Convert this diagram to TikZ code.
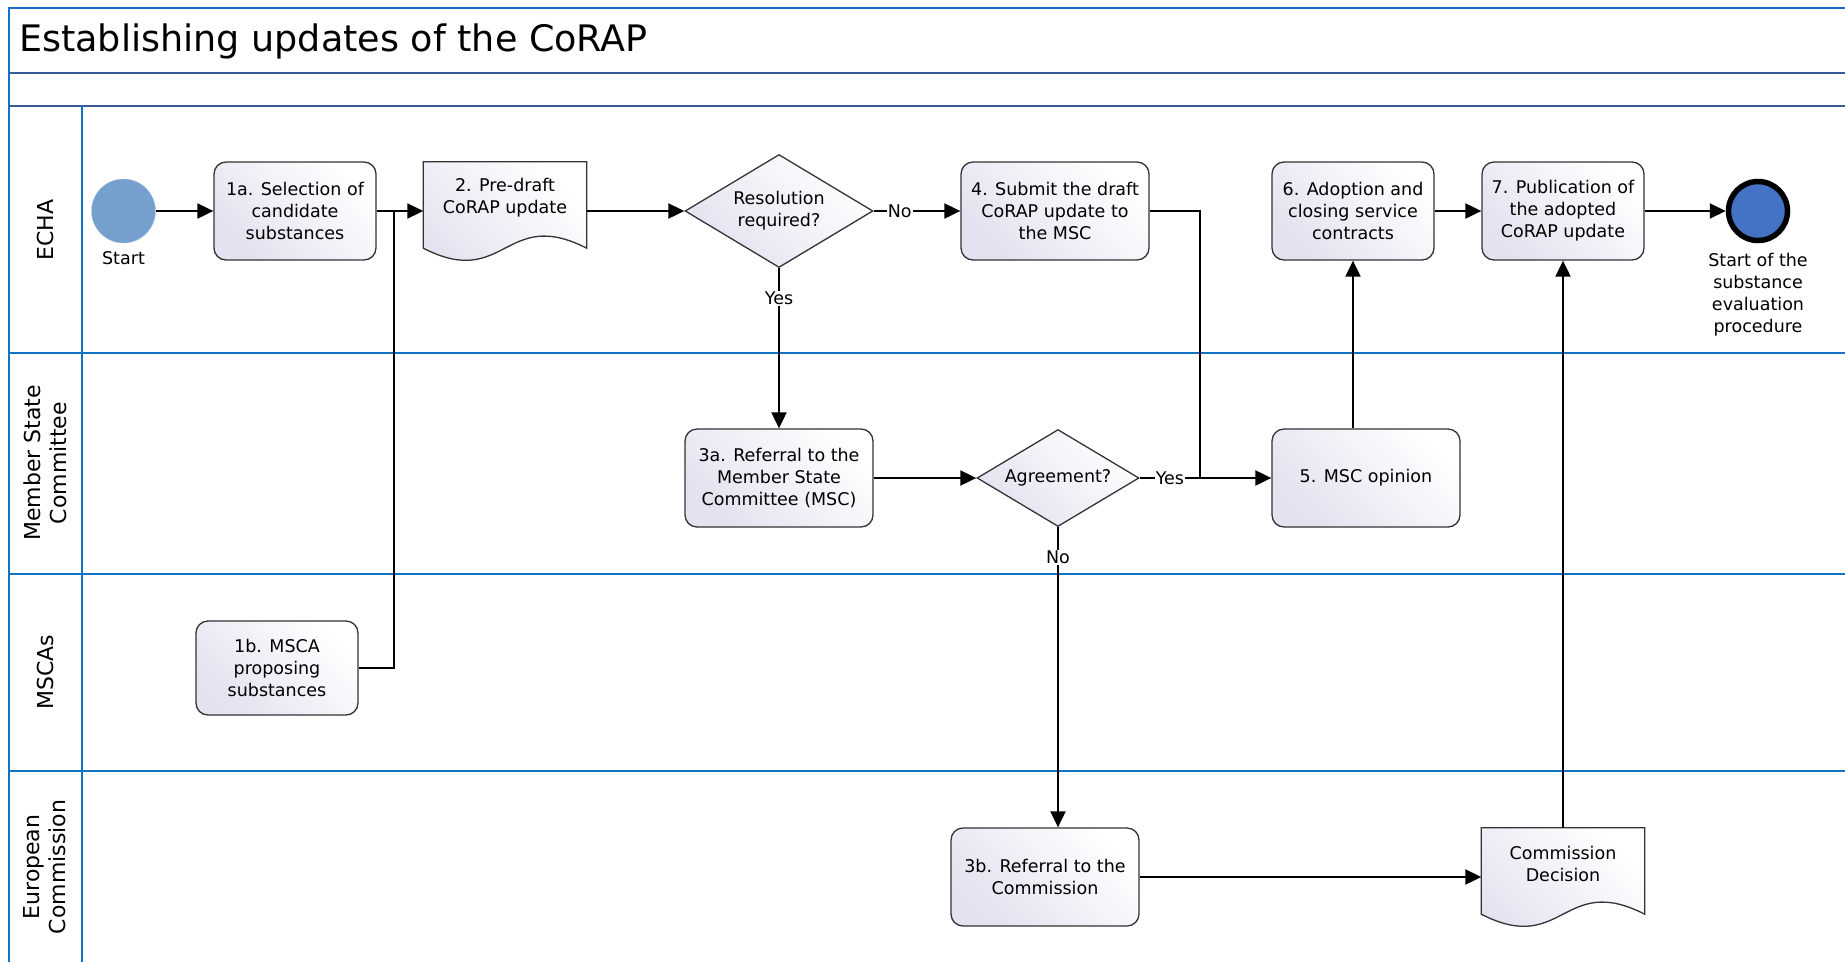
\documentclass[tikz,border=0pt]{standalone}
\usepackage{fontspec}
\setmainfont{DejaVu Sans}
\usetikzlibrary{shapes.geometric,arrows.meta,calc,positioning,backgrounds}

\definecolor{laneblue}{HTML}{1273C6}
\definecolor{bandblue}{HTML}{3A5C96}
\definecolor{shadeA}{HTML}{E2E2F0}
\definecolor{startblue}{HTML}{759FCC}
\definecolor{endblue}{HTML}{4472C4}

\newcommand{\boxfont}{\fontsize{17.5}{22}\selectfont}

\tikzset{
  laneline/.style={draw=laneblue, line width=2.2pt},
  bandline/.style={draw=bandblue, line width=2.5pt},
  lanename/.style={rotate=90, align=center, font=\fontsize{22}{26}\selectfont},
  task/.style={draw=black!80, line width=1.3pt, rounded corners=12pt, align=center,
    top color=shadeA, bottom color=white, shading angle=135,
    minimum width=162pt, minimum height=98pt, inner sep=2pt, font=\boxfont},
  wide/.style={minimum width=188pt},
  gate/.style={diamond, aspect=1.66, draw=black!80, line width=1.3pt, align=center,
    top color=shadeA, bottom color=white, shading angle=135, inner sep=0pt, font=\boxfont},
  docpage/.style={align=center, minimum width=163pt, minimum height=72pt, inner sep=0pt, font=\boxfont},
  docfill/.style={draw=black!80, line width=1.3pt, top color=shadeA, bottom color=white, shading angle=135},
  flow/.style={line width=2pt, -{Triangle[length=16pt,width=15pt]}},
  link/.style={line width=2pt},
  answer/.style={fill=white, inner sep=1pt, font=\boxfont},
}

% wavy page outline round a docpage node
\newcommand{\pageoutline}[1]{%
  \path[docfill] (#1.north west) -- (#1.north east) -- ($(#1.south east)+(0,14)$)
    .. controls ($(#1.south)+(0,-28)$) and ($(#1.south)+(0,56)$) .. ($(#1.south west)+(0,14)$) -- cycle;}

\begin{document}
\begin{tikzpicture}[x=1pt,y=-1pt]
  \useasboundingbox (0,0) rectangle (1845,962);

  % pool and lanes
  \draw[laneline] (9,962) -- (9,8) -- (1845,8);
  \draw[bandline] (9,73) -- (1845,73);
  \draw[bandline] (9,106) -- (1845,106);
  \draw[laneline] (82,106) -- (82,962);
  \foreach \y in {353,574,771}
    \draw[laneline] (9,\y) -- (1845,\y);

  \node[anchor=base west, inner sep=0pt, font=\fontsize{36.5}{40}\selectfont] (Title) at (19,51) {Establishing updates of the CoRAP};

  \node[lanename] (ECHA) at (45,230) {ECHA};
  \node[lanename] (MSC) at (45,463) {Member State\\Committee};
  \node[lanename] (MSCAs) at (45,672) {MSCAs};
  \node[lanename] (EC) at (45,867) {European\\Commission};

  % ECHA
  \node[circle, fill=startblue, draw=startblue!60!white, minimum size=64pt, inner sep=0pt] (Start) at (123.5,211) {};
  \node[below=5pt of Start, font=\boxfont] (StartLbl) {Start};
  \node[task] (Select) at (295,211) {1a. Selection of\\candidate\\substances};
  \node[docpage] (PreDraft) at (505,198) {2. Pre-draft\\CoRAP update};
  \node[gate, minimum width=188pt, minimum height=113pt] (Resolution) at (779,211) {Resolution\\required?};
  \node[task, wide] (Submit) at (1055,211) {4. Submit the draft\\CoRAP update to\\the MSC};
  \node[task] (Adoption) at (1353,211) {6. Adoption and\\closing service\\contracts};
  \node[task] (Publication) at (1563,211) {7. Publication of\\the adopted\\CoRAP update};
  \node[circle, fill=endblue, draw=black, line width=5.5pt, minimum size=59pt, inner sep=0pt] (End) at (1758,211) {};
  \node[below=6pt of End, align=center, font=\boxfont] (EndLbl) {Start of the\\substance\\evaluation\\procedure};

  % Member State Committee
  \node[task, wide] (Referral) at (779,478) {3a. Referral to the\\Member State\\Committee (MSC)};
  \node[gate, minimum width=162pt, minimum height=97pt] (Agreement) at (1058,478) {Agreement?};
  \node[task, wide] (Opinion) at (1366,478) {5. MSC opinion};

  % MSCAs
  \node[task, minimum height=94pt] (Propose) at (277,668) {1b. MSCA\\proposing\\substances};

  % European Commission
  \node[task, wide] (RefComm) at (1045,877) {3b. Referral to the\\Commission};
  \node[docpage] (Decision) at (1563,864) {Commission\\Decision};

  \begin{scope}[on background layer]
    \pageoutline{PreDraft}
    \pageoutline{Decision}
  \end{scope}

  \coordinate (Merge) at (394,211);
  \coordinate (Join) at (1200,478);

  \draw[flow] (Start) -- (Select);
  \draw[flow] (Select) -- (Select -| PreDraft.west);
  \draw[link] (Propose.east) -| (Merge);
  \draw[flow] (PreDraft.east |- Resolution) -- (Resolution);
  \draw[flow] (Resolution) -- node[answer, pos=0.3] (NoRes) {No} (Submit);
  \draw[flow] (Resolution) -- node[answer, pos=0.19] (YesRes) {Yes} (Referral);
  \draw[flow] (Referral) -- (Agreement);
  \draw[flow] (Agreement) -- node[answer, pos=0.23] (YesAgr) {Yes} (Opinion);
  \draw[link] (Submit.east) -| (Join);
  \draw[flow] (Agreement.south) -- node[answer, pos=0.1] (NoAgr) {No} (Agreement.south |- RefComm.north);
  \draw[flow] (Opinion.north -| Adoption) -- (Adoption);
  \draw[flow] (Adoption) -- (Publication);
  \draw[flow] (Publication) -- (End);
  \draw[flow] (RefComm) -- (RefComm -| Decision.west);
  \draw[flow] (Decision.north) -- (Publication);
\end{tikzpicture}
\end{document}
